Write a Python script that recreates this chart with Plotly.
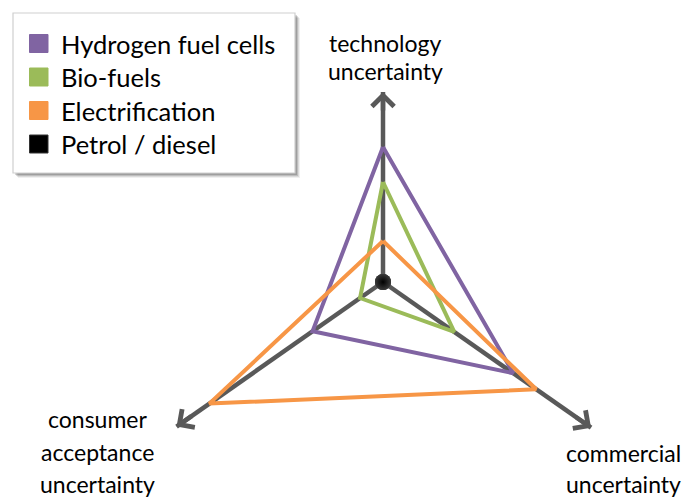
import numpy as np
import plotly.graph_objects as go

# Canvas size and pixel position of the common origin of the three axes
W, H = 689, 498
CX, CY = 383, 282

# Axes: direction (degrees) and drawn length
axis_names = ["technology uncertainty", "consumer acceptance uncertainty", "commercial uncertainty"]
axis_angles = [90, 215, -35]
axis_lengths = [190, 252, 254]

# Uncertainty scores on (technology, consumer acceptance, commercial)
series_names = ["Hydrogen fuel cells", "Bio-fuels", "Electrification", "Petrol / diesel"]
series_colors = ["#8064A2", "#9BBB59", "#F79646", "#000000"]
hydrogen = [135, 86, 159]
biofuels = [100, 28, 87]
electrification = [41, 212, 187]
petrol = [0, 0, 0]

FONT = "Lato, 'Open Sans', sans-serif"
AXIS_GREY = "#595959"


def to_xy(values):
    a = np.radians(axis_angles)
    r = np.asarray(values, dtype=float)
    return r * np.cos(a), r * np.sin(a)


def px(x, y):
    """Pixel position on the canvas -> data coordinates."""
    return x - CX, CY - y


fig = go.Figure()

# Axis shafts (drawn first so the series sit on top)
ax_x, ax_y = to_xy(axis_lengths)
for tx, ty in zip(ax_x, ax_y):
    fig.add_trace(go.Scatter(x=[0, tx], y=[0, ty], mode="lines",
                             line=dict(color=AXIS_GREY, width=4.5),
                             hoverinfo="skip"))

# Closed triangles for each alternative
for name, vals, col in zip(series_names[:3], [hydrogen, biofuels, electrification], series_colors[:3]):
    xs, ys = to_xy(vals)
    fig.add_trace(go.Scatter(x=list(xs) + [xs[0]], y=list(ys) + [ys[0]], mode="lines",
                             name=name, line=dict(color=col, width=4),
                             hoverinfo="name"))

# Petrol / diesel sits at the origin on every axis
xs, ys = to_xy(petrol)
fig.add_trace(go.Scatter(x=xs, y=ys, mode="markers", name=series_names[3],
                         marker=dict(size=16, color="#3a3a3a",
                                     gradient=dict(type="radial", color="#000000"),
                                     line=dict(width=0))))

# Arrow heads at the end of each axis
for tx, ty, ang in zip(ax_x, ax_y, axis_angles):
    back = 20
    bx = tx - back * np.cos(np.radians(ang))
    by = ty - back * np.sin(np.radians(ang))
    fig.add_annotation(x=tx, y=ty, ax=bx, ay=by, xref="x", yref="y",
                       axref="x", ayref="y", text="", showarrow=True,
                       arrowhead=4, arrowsize=0.95, arrowwidth=4.5,
                       arrowcolor=AXIS_GREY)

# Axis titles, one annotation per line
label_lines = [
    (["technology", "uncertainty"], 385, [43, 71]),
    (["consumer", "acceptance", "uncertainty"], 97, [419, 452, 484]),
    (["commercial", "uncertainty"], 623, [453, 484]),
]
for lines, cx, ys_px in label_lines:
    for txt, yp in zip(lines, ys_px):
        x, y = px(cx, yp)
        fig.add_annotation(x=x, y=y, xref="x", yref="y", text=txt, showarrow=False,
                           xanchor="center", yanchor="middle",
                           font=dict(family=FONT, size=23, color="#000000"))

# Legend box with a soft shadow
shapes = []
L, T, R, B = 13, 13, 295, 173
for off, alpha in [(5, 0.06), (4, 0.09), (3, 0.13), (2, 0.16)]:
    x0, y0 = px(L + off, T + off)
    x1, y1 = px(R + off, B + off)
    shapes.append(dict(type="rect", xref="x", yref="y", x0=x0, y0=y0, x1=x1, y1=y1,
                       fillcolor=f"rgba(0,0,0,{alpha})", line=dict(width=0), layer="above"))
x0, y0 = px(L, T)
x1, y1 = px(R, B)
shapes.append(dict(type="rect", xref="x", yref="y", x0=x0, y0=y0, x1=x1, y1=y1,
                   fillcolor="white", line=dict(color="#cfcfcf", width=1.2), layer="above"))

row_y = [43.5, 77, 110.5, 144]
for name, col, yc in zip(series_names, series_colors, row_y):
    sx0, sy0 = px(29.5, yc - 9)
    sx1, sy1 = px(48, yc + 9)
    edge = "#333333" if col == "#000000" else col
    shapes.append(dict(type="rect", xref="x", yref="y", x0=sx0, y0=sy0, x1=sx1, y1=sy1,
                       fillcolor=col, line=dict(color=edge, width=1), layer="above"))
    tx, ty = px(59, yc)
    fig.add_annotation(x=tx, y=ty, xref="x", yref="y", text=name, showarrow=False,
                       xanchor="left", yanchor="middle",
                       font=dict(family=FONT, size=25.5, color="#000000"))

fig.update_layout(
    width=W, height=H, margin=dict(l=0, r=0, t=0, b=0),
    paper_bgcolor="white", plot_bgcolor="white", showlegend=False,
    shapes=shapes,
    xaxis=dict(range=[-CX, W - CX], visible=False, fixedrange=True),
    yaxis=dict(range=[CY - H, CY], visible=False, fixedrange=True),
)

fig.write_html("out.html")
